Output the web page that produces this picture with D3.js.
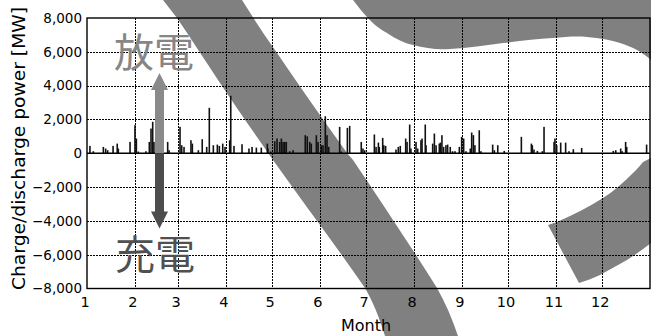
<!DOCTYPE html>
<html>
<head>
<meta charset="utf-8">
<script src="https://cdn.jsdelivr.net/npm/d3@7"></script>
<style>
html,body{margin:0;padding:0;background:#fff;}
svg{display:block;}
</style>
</head>
<body>
<svg id="chart" width="651" height="336"></svg>
<script>
// ---------------- data ----------------
const monthLabels = ["1","2","3","4","5","6","7","8","9","10","11","12"];
const yTickValues = [-8000,-6000,-4000,-2000,0,2000,4000,6000,8000];
// day offset from Jan 1 (fractional days) and discharge power [MW]
const spikeDay = [1.9,4.1,10.6,12.1,13.4,16.9,19.6,20.3,27.9,31.1,32.0,33.3,38.2,40.4,41.5,42.6,43.4,45.0,52.3,53.2,60.3,61.4,62.9,67.4,68.3,72.2,74.7,77.6,79.3,81.9,84.5,85.8,88.0,89.5,
  92.5,93.2,95.3,100.5,105.0,107.0,109.8,113.0,116.9,117.3,119.1,121.7,123.2,124.9,126.0,127.1,128.2,129.2,131.4,133.6,141.5,142.8,144.4,145.4,148.7,149.8,151.9,153.0,154.5,155.6,156.7,163.8,164.9,168.8,170.3,177.8,178.9,180.0,
  186.3,187.4,188.9,189.5,191.7,192.4,193.6,200.3,201.8,203.1,206.6,207.5,209.2,210.0,213.3,214.4,216.5,217.2,219.3,219.8,224.1,225.2,226.3,228.4,229.1,230.1,231.2,232.7,233.8,235.5,237.0,238.6,241.4,242.9,244.2,245.7,248.5,249.4,250.5,251.5,254.3,255.4,263.0,264.1,266.3,270.5,
  281.6,288.1,288.7,289.8,292.0,295.2,296.3,302.8,303.4,304.5,307.1,310.3,312.5,315.3,320.7,341.2,342.8,346.0,347.0,349.2,349.9,362.8];
const spikeMW = [435,120,375,280,180,435,570,280,670,1660,870,100,120,670,1460,1860,670,375,670,180,1560,475,375,770,570,180,830,375,2690,475,513,435,570,375,
  770,3400,435,535,280,375,335,335,570,280,100,710,870,670,870,670,670,670,120,180,1070,1000,670,570,1070,670,475,475,2190,1070,375,1560,100,1500,1620,670,280,180,
  1110,375,630,375,910,475,435,220,375,435,870,670,1700,280,670,280,770,870,1700,475,570,1165,475,570,630,1070,375,475,513,375,120,120,375,970,870,120,280,1225,1070,475,1360,120,513,180,475,140,
  970,570,475,220,140,120,1560,670,870,475,630,630,120,240,315,140,180,280,120,670,375,513];

// ---------------- layout ----------------
const svg = d3.select("#chart");
const L = 87, R = 650, T = 18, B = 288.5;
const year0 = new Date(2015,0,1), year1 = new Date(2016,0,1);
const x = d3.scaleTime().domain([year0, year1]).range([L, R]);
const y = d3.scaleLinear().domain([-8000, 8000]).range([B, T]);
const dayToDate = d => new Date(year0.getTime() + d*86400000);
const monthStarts = d3.timeMonth.range(year0, year1);

// ---------------- decorative gray strokes (background) ----------------
const deco = svg.append("g").attr("fill", "#808080");
deco.append("path").attr("d",
  "M163,0 L177,18 C192,40 206,62 220,83 C238,110 255,134 273,160 C305,205 336,246 365,288 C372,300 379,316 385,336 L458,336 C452,318 445,302 437,288 C410,245 380,200 353,160 L347,153 C322,118 298,84 275,50 C263,33 252,16 242,0 Z");
deco.append("path").attr("d",
  "M353,0 C358,6 362,12 367,17 C374,25 380,29 387,33 C396,39 404,43 413,45 C425,48 437,50 450,49 C468,48 486,45 503,43 C520,41 537,39 553,38 C565,37 576,36 587,37 C600,38 611,40 620,43 C626,45 632,47 637,50 C642,53 647,56 651,60 L651,0 Z");
deco.append("path").attr("d",
  "M548,225 L557,222 C573,215 589,207 603,198 C614,191 624,182 633,173 C637,169 640,166 643,162 L651,158 L651,243 C643,249 635,255 627,260 C618,265 609,270 600,275 C593,278 586,281 579,283 Z");

// ---------------- grid ----------------
const grid = svg.append("g").attr("stroke", "#000").attr("stroke-width", 1)
  .attr("stroke-dasharray", "1.5,1.5").attr("shape-rendering", "crispEdges");
grid.selectAll("line.h").data(yTickValues.filter(v => v !== 0 && v !== 8000 && v !== -8000))
  .join("line").attr("class","h")
  .attr("x1", L).attr("x2", R).attr("y1", d => Math.round(y(d))+0.5).attr("y2", d => Math.round(y(d))+0.5);
grid.selectAll("line.v").data(monthStarts.slice(1))
  .join("line").attr("class","v")
  .attr("y1", T).attr("y2", B).attr("x1", d => Math.round(x(d))+0.5).attr("x2", d => Math.round(x(d))+0.5);

// ---------------- bars ----------------
const spikes = spikeDay.map((d,i) => ({date: dayToDate(d), v: spikeMW[i]}));
svg.append("g").attr("fill", "#111").selectAll("rect").data(spikes).join("rect")
  .attr("x", d => x(d.date) - 0.8).attr("width", 1.6)
  .attr("y", d => y(d.v)).attr("height", d => y(0) - y(d.v));

// ---------------- zero line & frame ----------------
svg.append("line").attr("x1", L).attr("x2", R).attr("y1", y(0)).attr("y2", y(0))
  .attr("stroke", "#000").attr("stroke-width", 1.6);
svg.append("rect").attr("x", L).attr("y", T).attr("width", R-L).attr("height", B-T)
  .attr("fill", "none").attr("stroke", "#000").attr("stroke-width", 1.4);

// ---------------- axes ----------------
const yAxis = d3.axisLeft(y).tickValues(yTickValues).tickFormat(d3.format(",")).tickSize(0).tickPadding(5);
const gy = svg.append("g").attr("transform", `translate(${L},0)`).call(yAxis);
gy.select(".domain").remove();
gy.selectAll("text").attr("font-family", "DejaVu Sans").attr("font-size", 13.5).attr("fill", "#000");

const xAxis = d3.axisBottom(x).tickValues(monthStarts).tickFormat((d,i) => monthLabels[i]).tickSize(0).tickPadding(8);
const gx = svg.append("g").attr("transform", `translate(0,${B})`).call(xAxis);
gx.select(".domain").remove();
gx.selectAll("text").attr("font-family", "DejaVu Sans").attr("font-size", 14.5).attr("fill", "#000").attr("dx", -2.5);

svg.append("text").attr("x", 366).attr("y", 331).attr("text-anchor", "middle")
  .attr("font-family", "DejaVu Sans").attr("font-size", 16).attr("fill", "#000").text("Month");

svg.append("text").attr("transform", "translate(25,148.5) rotate(-90)").attr("text-anchor", "middle")
  .attr("font-family", "DejaVu Sans").attr("font-size", 18).attr("fill", "#000")
  .attr("textLength", 283).attr("lengthAdjust", "spacingAndGlyphs")
  .text("Charge/discharge power [MW]");

// ---------------- arrow & labels ----------------
const ax = 159.5, zeroY = y(0);
svg.append("path").attr("fill", "#8a8a8a").attr("d",
  `M${ax},73 L${ax+8.5},90 L${ax+4.5},90 L${ax+4.5},${zeroY} L${ax-4.5},${zeroY} L${ax-4.5},90 L${ax-8.5},90 Z`);
svg.append("path").attr("fill", "#4d4d4d").attr("d",
  `M${ax-4.5},${zeroY} L${ax+4.5},${zeroY} L${ax+4.5},211.5 L${ax+8.5},211.5 L${ax},228.5 L${ax-8.5},211.5 L${ax-4.5},211.5 Z`);

svg.append("text").attr("x", 154).attr("y", 67).attr("text-anchor", "middle")
  .attr("font-family", "Noto Sans CJK JP").attr("font-size", 40).attr("fill", "#868686").text("放電");
svg.append("text").attr("x", 155).attr("y", 269).attr("text-anchor", "middle")
  .attr("font-family", "Noto Sans CJK JP").attr("font-size", 40).attr("fill", "#505050").text("充電");
</script>
</body>
</html>
